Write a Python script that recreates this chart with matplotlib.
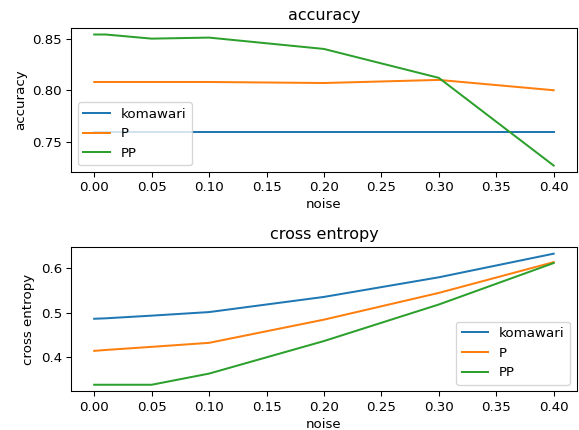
import matplotlib
matplotlib.use('Agg')
import matplotlib.pyplot as plt

noise = [0.0, 0.01, 0.05, 0.1, 0.2, 0.3, 0.4]

# accuracy
acc_komawari = [0.760, 0.760, 0.760, 0.760, 0.760, 0.760, 0.760]
acc_P = [0.808, 0.808, 0.808, 0.808, 0.807, 0.810, 0.800]
acc_PP = [0.854, 0.854, 0.850, 0.851, 0.840, 0.812, 0.727]

# cross entropy
ce_komawari = [0.486, 0.487, 0.493, 0.501, 0.535, 0.579, 0.632]
ce_P = [0.414, 0.416, 0.423, 0.432, 0.484, 0.544, 0.613]
ce_PP = [0.338, 0.338, 0.338, 0.363, 0.436, 0.518, 0.611]

labels = ['komawari', 'P', 'PP']

fig, (ax1, ax2) = plt.subplots(2, 1, figsize=(579 / 96, 430 / 96), dpi=96)

# Gráfico de cima
for ys, lab in zip([acc_komawari, acc_P, acc_PP], labels):
    ax1.plot(noise, ys, label=lab)
ax1.set_title('accuracy')
ax1.set_xlabel('noise', labelpad=3)
ax1.set_ylabel('accuracy')
ax1.legend(loc='lower left')

# Gráfico de baixo
for ys, lab in zip([ce_komawari, ce_P, ce_PP], labels):
    ax2.plot(noise, ys, label=lab)
ax2.set_title('cross entropy')
ax2.set_xlabel('noise', labelpad=3)
ax2.set_ylabel('cross entropy')
ax2.legend(loc='lower right')

fig.subplots_adjust(left=0.123, right=0.996, top=0.935, bottom=0.09, hspace=0.52)
fig.savefig('out.png')
